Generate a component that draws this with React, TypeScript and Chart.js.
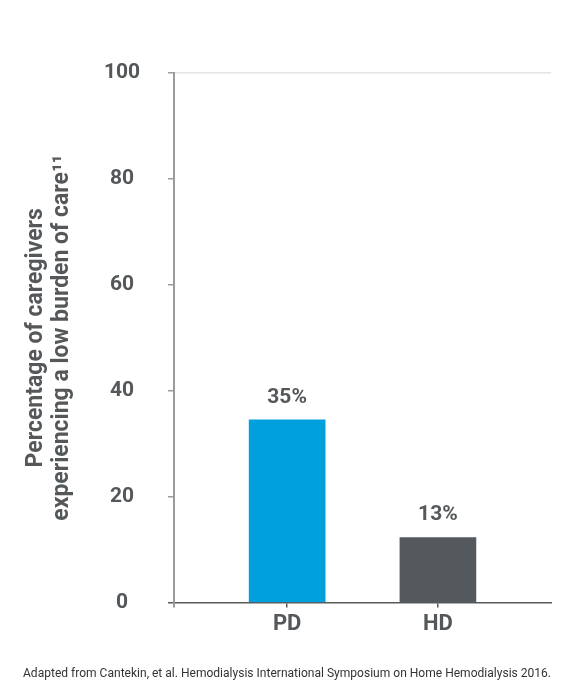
import { useEffect, useRef } from 'react'
import { Chart, registerables } from 'chart.js'

Chart.register(...registerables)

const categories = ['PD', 'HD']
const values = [34.5, 12.3]
const valueLabels = ['35%', '13%']
const barColors = ['#00a0dc', '#54595d']
const yTitle = ['Percentage of caregivers', 'experiencing a low burden of care\u00B9\u00B9']
const footer = 'Adapted from Cantekin, et al. Hemodialysis International Symposium on Home Hemodialysis 2016.'

const TEXT = '#54585a'
const FONT = 'Roboto, "DejaVu Sans", sans-serif'

// draws the "35%" style labels above each bar
const barLabels = {
  id: 'barLabels',
  afterDatasetsDraw(chart: Chart) {
    const { ctx } = chart
    const meta = chart.getDatasetMeta(0)
    ctx.save()
    ctx.font = `bold 21px ${FONT}`
    ctx.fillStyle = TEXT
    ctx.textAlign = 'center'
    ctx.textBaseline = 'bottom'
    meta.data.forEach((el: any, i: number) => {
      ctx.fillText(valueLabels[i], el.x, el.y - 12)
    })
    ctx.restore()
  },
}

export default function App() {
  const canvasRef = useRef<HTMLCanvasElement>(null)
  const chartRef = useRef<Chart | null>(null)

  useEffect(() => {
    if (!canvasRef.current) return
    chartRef.current?.destroy()

    chartRef.current = new Chart(canvasRef.current, {
      type: 'bar',
      data: {
        datasets: [{
          data: values.map((v, i) => ({ x: i + 1, y: v })),
          backgroundColor: barColors,
          barThickness: 76,
        }],
      },
      plugins: [barLabels],
      options: {
        animation: false,
        responsive: true,
        maintainAspectRatio: false,
        layout: { padding: { top: 73, right: 19, left: 23, bottom: 0 } },
        plugins: {
          legend: { display: false },
          tooltip: { enabled: false },
          title: {
            display: true,
            position: 'bottom',
            text: footer,
            color: '#333',
            font: { family: FONT, size: 12.5, weight: 'normal' },
            padding: { top: 24, bottom: 19 },
          },
        },
        scales: {
          x: {
            type: 'linear',
            min: 0.25,
            max: 2.75,
            offset: false,
            afterBuildTicks: (axis: any) => {
              axis.ticks = [{ value: 0.25 }, { value: 1 }, { value: 2 }]
            },
            border: { display: true, color: '#58595b', width: 1.5 },
            grid: {
              offset: false,
              drawOnChartArea: false,
              tickLength: 5,
              lineWidth: (ctx: any) => (ctx.tick?.value === 0.25 ? 2 : 1.5),
              color: (ctx: any) => (ctx.tick?.value === 0.25 ? '#9b9b9b' : '#58595b'),
            },
            ticks: {
              padding: 4,
              color: TEXT,
              font: { family: FONT, size: 22, weight: 'bold' },
              callback: (v: any) => (Number.isInteger(v) ? categories[v - 1] : ''),
            },
          },
          y: {
            min: 0,
            max: 100,
            border: { display: true, color: '#9b9b9b', width: 2 },
            grid: {
              color: (ctx: any) => (ctx.tick?.value === 100 ? '#e4e4e4' : 'transparent'),
              tickColor: (ctx: any) => (ctx.tick?.value === 0 ? '#58595b' : '#9b9b9b'),
              tickLength: 6,
              lineWidth: 1.5,
            },
            ticks: {
              stepSize: 20,
              padding: 28,
              crossAlign: 'center',
              color: TEXT,
              font: { family: FONT, size: 21, weight: 'bold' },
            },
            title: {
              display: true,
              text: yTitle,
              color: TEXT,
              font: { family: FONT, size: 23, weight: 'bold', lineHeight: 1.15 },
              padding: { top: 0, bottom: 0 },
            },
          },
        },
      },
    } as any)

    return () => {
      chartRef.current?.destroy()
    }
  }, [])

  return (
    <div style={{ position: 'absolute', left: 0, top: 0, width: 570, height: 700, background: '#fff' }}>
      <canvas ref={canvasRef} />
    </div>
  )
}
